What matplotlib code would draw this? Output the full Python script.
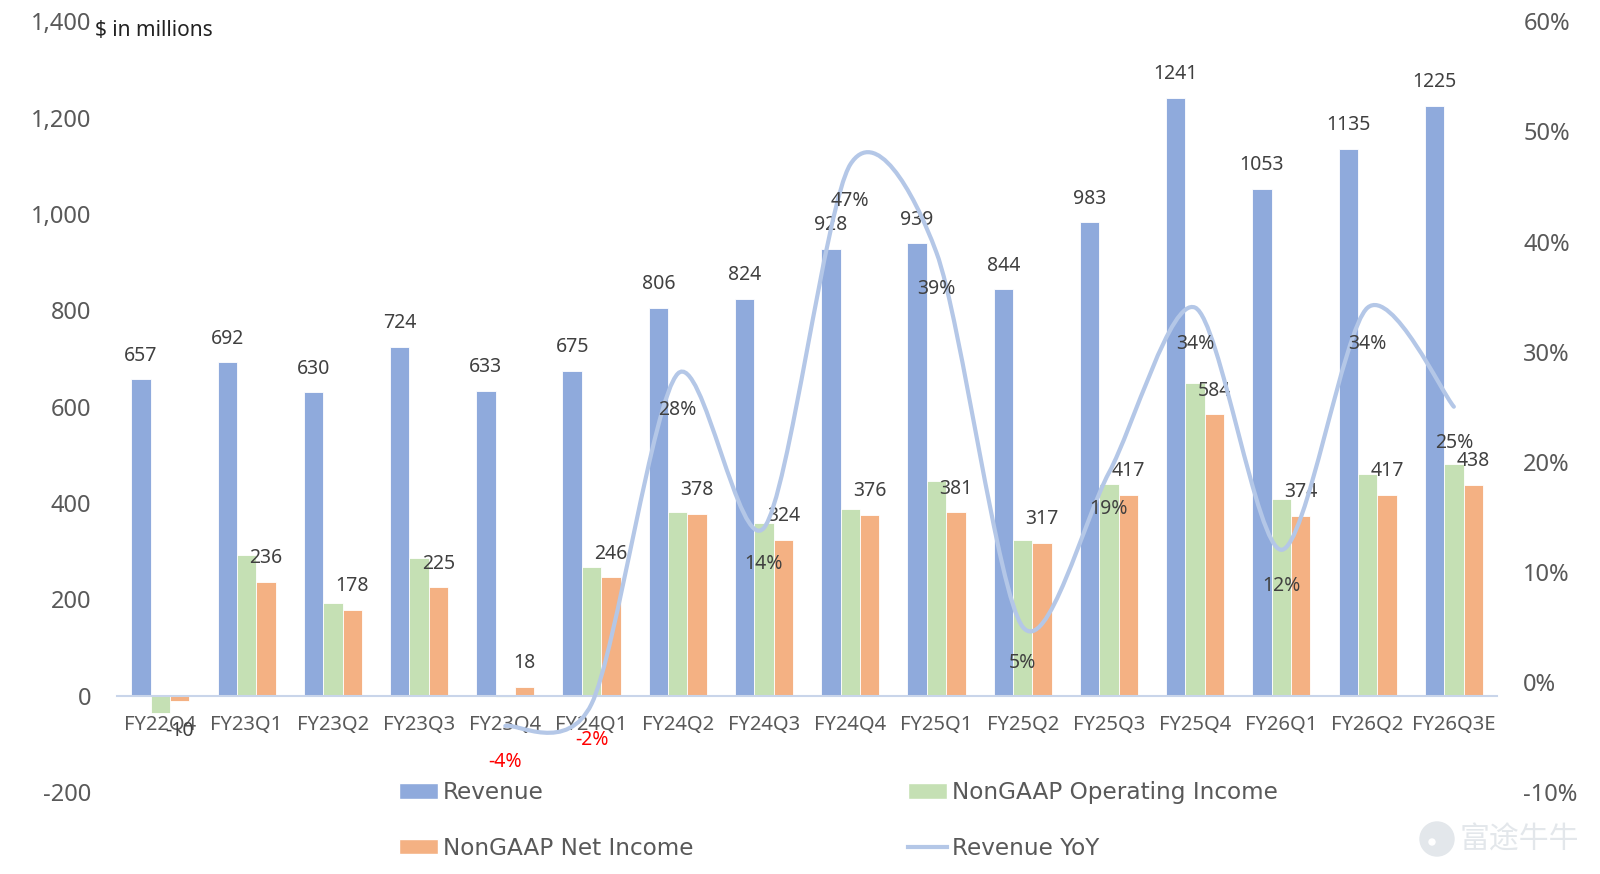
import numpy as np
import matplotlib
matplotlib.use("Agg")
import matplotlib.pyplot as plt
from matplotlib.path import Path
from matplotlib.patches import PathPatch, Patch, Ellipse
from matplotlib.lines import Line2D
from matplotlib.ticker import FuncFormatter

plt.rcParams['font.family'] = ['Noto Sans', 'DejaVu Sans']

# data ($ in millions)
quarters = ["FY22Q4", "FY23Q1", "FY23Q2", "FY23Q3", "FY23Q4", "FY24Q1", "FY24Q2", "FY24Q3",
            "FY24Q4", "FY25Q1", "FY25Q2", "FY25Q3", "FY25Q4", "FY26Q1", "FY26Q2", "FY26Q3E"]
revenue = [657, 692, 630, 724, 633, 675, 806, 824, 928, 939, 844, 983, 1241, 1053, 1135, 1225]
op_income = [-35, 293, 192, 285, -3, 268, 382, 358, 388, 446, 323, 439, 650, 408, 461, 482]
net_income = [-10, 236, 178, 225, 18, 246, 378, 324, 376, 381, 317, 417, 584, 374, 417, 438]
# revenue YoY in %, starts at FY23Q4
yoy_quarters = quarters[4:]
yoy = [-4, -2, 28, 14, 47, 39, 5, 19, 34, 12, 34, 25]

c_rev = "#8FAADC"
c_op = "#C5E0B4"
c_net = "#F4B183"
c_yoy = "#B4C7E7"
c_tick = "#595959"
c_lab = "#404040"

fig = plt.figure(figsize=(16, 8.74), dpi=100)
ax = fig.add_axes([0.0733, 0.0938, 0.9356 - 0.0733, 0.9755 - 0.0938])
ax2 = ax.twinx()

x = np.arange(len(quarters))
w = 0.225
ax.bar(x - w, revenue, w, color=c_rev, edgecolor="white", linewidth=0.6, zorder=2)
ax.bar(x, op_income, w, color=c_op, edgecolor="white", linewidth=0.6, zorder=2)
ax.bar(x + w, net_income, w, color=c_net, edgecolor="white", linewidth=0.6, zorder=2)

for i, v in enumerate(revenue):
    ax.annotate(str(v), (x[i] - w, v), xytext=(0, 17), textcoords="offset points",
                ha="center", va="center", fontsize=14, color=c_lab, zorder=5)
for i, v in enumerate(net_income):
    off = 17 if v >= 0 else -22
    ax.annotate(str(v), (x[i] + w, v), xytext=(0, off), textcoords="offset points",
                ha="center", va="center", fontsize=14, color=c_lab, zorder=5)

ax.set_xlim(-0.5, len(quarters) - 0.5)
ax.set_ylim(-200, 1400)
ax.set_yticks(range(-200, 1401, 200))
ax.yaxis.set_major_formatter(FuncFormatter(lambda v, p: f"{v:,.0f}"))
ax.set_xticks(x)
ax.set_xticklabels(quarters, family="DejaVu Sans")
for s in ["top", "left", "right"]:
    ax.spines[s].set_visible(False)
    ax2.spines[s].set_visible(False)
ax2.spines["bottom"].set_visible(False)
ax.spines["bottom"].set_position(("data", 0))
ax.spines["bottom"].set_color("#C9D5EA")
ax.spines["bottom"].set_linewidth(1.5)
ax.tick_params(axis="x", length=0, pad=14, labelsize=14.5, labelcolor=c_tick)
ax.tick_params(axis="y", length=0, pad=19, labelsize=17, labelcolor=c_tick)

# smoothed YoY line (bezier through the points, like Excel smoothing)
yx = np.arange(4, 4 + len(yoy), dtype=float)
pts = np.column_stack([yx, yoy]).astype(float)
verts = [pts[0]]
codes = [Path.MOVETO]
n = len(pts)
for i in range(n - 1):
    p0 = pts[i - 1] if i > 0 else pts[i]
    p1 = pts[i]
    p2 = pts[i + 1]
    p3 = pts[i + 2] if i + 2 < n else pts[i + 1]
    verts += [p1 + (p2 - p0) / 7, p2 - (p3 - p1) / 7, p2]
    codes += [Path.CURVE4] * 3
ax2.add_patch(PathPatch(Path(verts, codes), facecolor="none", edgecolor=c_yoy,
                        linewidth=3, capstyle="round", zorder=3))
for xi, v in zip(yx, yoy):
    ax2.annotate(f"{v}%", (xi, v), xytext=(0, -26), textcoords="offset points",
                 ha="center", va="center", fontsize=14,
                 color="#FF0000" if v < 0 else c_lab, zorder=5)

ax2.set_ylim(-10, 60)
ax2.set_yticks(range(-10, 61, 10))
ax2.yaxis.set_major_formatter(FuncFormatter(lambda v, p: f"{v:.0f}%"))
ax2.tick_params(axis="y", length=0, pad=19, labelsize=17, labelcolor=c_tick)

fig.text(95 / 1600, 1 - 30 / 874, "$ in millions", fontsize=15, color="#222222",
         ha="left", va="center")

# legend in two columns
leg_kw = dict(loc="center left", frameon=False, handlelength=1.7,
              handleheight=0.65, handletextpad=0.2, labelspacing=1.4, borderpad=0,
              borderaxespad=0, labelcolor=c_tick,
              prop={"family": "DejaVu Sans", "size": 16.7})
h_left = [Patch(facecolor=c_rev, edgecolor="white"), Patch(facecolor=c_net, edgecolor="white")]
h_right = [Patch(facecolor=c_op, edgecolor="white"), Line2D([], [], color=c_yoy, lw=3)]
fig.legend(h_left, ["Revenue", "NonGAAP Net Income"],
           bbox_to_anchor=(399 / 1600, 1 - 820.5 / 874), **leg_kw)
fig.legend(h_right, ["NonGAAP Operating Income", "Revenue YoY"],
           bbox_to_anchor=(908 / 1600, 1 - 820.5 / 874), **leg_kw)

# watermark
fig.patches.append(Ellipse((1437 / 1600, 1 - 839 / 874), 34 / 1600, 34 / 874,
                           transform=fig.transFigure, color="#E3E7EB", zorder=0))
fig.patches.append(Ellipse((1432 / 1600, 1 - 842 / 874), 6 / 1600, 6 / 874,
                           transform=fig.transFigure, color="white", zorder=1))
fig.text(1460 / 1600, 1 - 840 / 874, "富途牛牛", fontsize=21.5, color="#E3E7EB",
         family=["Noto Sans CJK SC", "DejaVu Sans"], ha="left", va="center")

fig.savefig("out.png", dpi=100)
